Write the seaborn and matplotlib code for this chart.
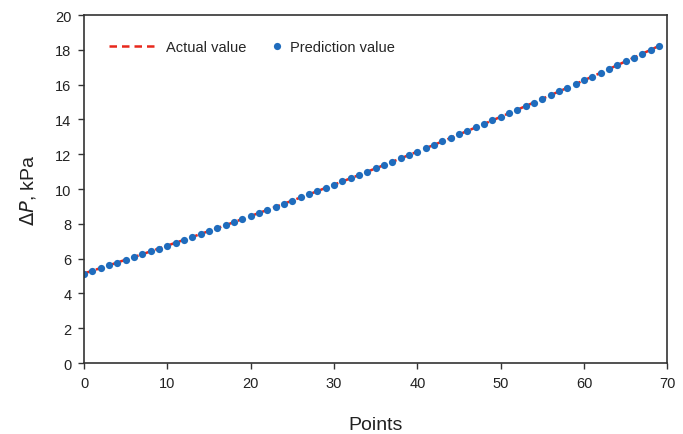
import matplotlib
matplotlib.use("Agg")
import matplotlib.pyplot as plt
import seaborn as sns
import pandas as pd
from matplotlib.legend_handler import HandlerLine2D

points = list(range(70))
actual_value = [5.15, 5.31, 5.46, 5.62, 5.78, 5.94, 6.10, 6.26, 6.42, 6.59,
                6.75, 6.92, 7.08, 7.25, 7.42, 7.59, 7.76, 7.93, 8.10, 8.28,
                8.45, 8.63, 8.80, 8.98, 9.16, 9.34, 9.52, 9.70, 9.88, 10.07,
                10.25, 10.44, 10.62, 10.81, 11.00, 11.19, 11.38, 11.57, 11.76, 11.96,
                12.15, 12.35, 12.54, 12.74, 12.94, 13.14, 13.34, 13.54, 13.74, 13.95,
                14.15, 14.36, 14.56, 14.77, 14.98, 15.19, 15.40, 15.61, 15.82, 16.04,
                16.25, 16.47, 16.68, 16.90, 17.12, 17.34, 17.56, 17.78, 18.00, 18.23]
prediction_value = [5.14, 5.31, 5.47, 5.62, 5.77, 5.94, 6.10, 6.27, 6.42, 6.58,
                    6.75, 6.91, 7.08, 7.25, 7.43, 7.59, 7.76, 7.92, 8.11, 8.28,
                    8.45, 8.62, 8.81, 8.98, 9.16, 9.33, 9.52, 9.71, 9.88, 10.06,
                    10.25, 10.44, 10.62, 10.81, 11.00, 11.20, 11.38, 11.56, 11.77, 11.96,
                    12.15, 12.34, 12.54, 12.74, 12.95, 13.14, 13.33, 13.54, 13.75, 13.95,
                    14.14, 14.36, 14.57, 14.77, 14.97, 15.19, 15.40, 15.61, 15.83, 16.04,
                    16.25, 16.46, 16.68, 16.90, 17.12, 17.35, 17.56, 17.78, 18.01, 18.23]
x_ticks = [0, 10, 20, 30, 40, 50, 60, 70]
y_ticks = [0, 2, 4, 6, 8, 10, 12, 14, 16, 18, 20]

df = pd.DataFrame({"Points": points, "Actual": actual_value, "Prediction": prediction_value})

sns.set_style("ticks")
plt.rcParams['font.family'] = ['Liberation Sans', 'DejaVu Sans']


class RightMarkerHandler(HandlerLine2D):
    def get_xdata(self, legend, xdescent, ydescent, width, height, fontsize):
        right = -xdescent + width
        xdata = [right - 0.6 * fontsize, right]
        return xdata, [right - 0.3 * fontsize]


fig = plt.figure(figsize=(6.83, 4.35), dpi=100)
ax = fig.add_axes([0.123, 0.163, 0.854, 0.8])

sns.lineplot(data=df, x="Points", y="Actual", ax=ax, color="#e8281c",
             linestyle=(0, (3, 2)), linewidth=1.8, label="Actual value")
sns.lineplot(data=df, x="Points", y="Prediction", ax=ax, color="#1f6cbd",
             linestyle="none", marker="o", markersize=5.2, markeredgewidth=0,
             label="Prediction value")

ax.set_xlim(0, 70)
ax.set_ylim(0, 20)
ax.set_xticks(x_ticks)
ax.set_yticks(y_ticks)
ax.tick_params(direction="out", length=4, width=1, labelsize=10.5, colors="#333333",
               labelcolor="#222222", pad=5)
for s in ax.spines.values():
    s.set_visible(True)
    s.set_color("#333333")
    s.set_linewidth(1.2)

ax.set_xlabel("Points", fontsize=14, color="#222222", labelpad=19)
ax.set_ylabel(r"$\Delta\mathit{P}$, kPa", fontsize=14, color="#222222", labelpad=12)

handles, labels = ax.get_legend_handles_labels()
leg = ax.legend(handles, labels, loc="upper left", ncol=2, frameon=False, fontsize=10.5,
                bbox_to_anchor=(0.02, 0.965), handlelength=3.4, columnspacing=-1.0,
                handletextpad=0.55,
                handler_map={handles[1]: RightMarkerHandler()})

fig.savefig("out.png", dpi=100)
